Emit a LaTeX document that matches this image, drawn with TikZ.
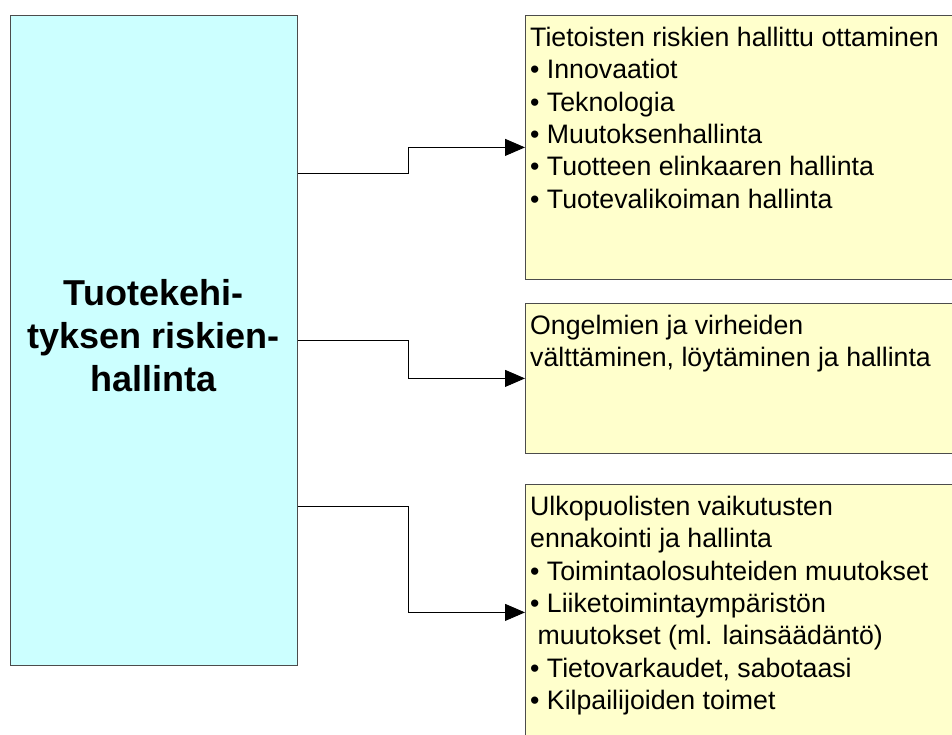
\documentclass[tikz,border=0pt]{standalone}
\usepackage{fontspec}
\setmainfont{Liberation Sans}
\usetikzlibrary{arrows.meta}
\definecolor{cyanbox}{HTML}{CCFFFF}
\definecolor{yellowbox}{HTML}{FFFFCC}
\begin{document}
\begin{tikzpicture}[x=1pt,y=-1pt,
  box/.style={draw=black!70, line width=0.8pt, inner sep=0pt, anchor=north west},
  txt/.style={anchor=north west, inner sep=0pt, align=left, font=\fontsize{26.7}{32.4}\selectfont},
  conn/.style={draw=black, line width=0.9pt, -{Triangle[length=20pt,width=17pt]}}]
\useasboundingbox (0,0) rectangle (952,734);
\clip (0,0) rectangle (952,734);
\node[box, fill=cyanbox, minimum width=287pt, minimum height=650pt] (L) at (10,15) {};
\node[box, fill=yellowbox, minimum width=440pt, minimum height=264pt] (B1) at (525,15) {};
\node[box, fill=yellowbox, minimum width=440pt, minimum height=150pt] (B2) at (525,303) {};
\node[box, fill=yellowbox, minimum width=440pt, minimum height=256pt] (B3) at (525,484) {};
\node[anchor=north, inner sep=0pt, align=center, font=\fontsize{36}{43}\selectfont\bfseries] (T0) at (153.5,279) {Tuotekehi-\\tyksen riskien-\\hallinta};
\node[txt] (T1) at (530,26.7) {Tietoisten riskien hallittu ottaminen\\• Innovaatiot\\• Teknologia\\• Muutoksenhallinta\\• Tuotteen elinkaaren hallinta\\• Tuotevalikoiman hallinta};
\node[txt] (T2) at (530,314.7) {Ongelmien ja virheiden\\välttäminen, löytäminen ja hallinta};
\node[txt] (T3) at (530,495.7) {Ulkopuolisten vaikutusten\\ennakointi ja hallinta\\• Toimintaolosuhteiden muutokset\\• Liiketoimintaympäristön\\\ muutokset (ml. lainsäädäntö)\\• Tietovarkaudet, sabotaasi\\• Kilpailijoiden toimet};
\draw[conn] ([yshift=167pt]L.east) -- ++(111,0) |- (B1.west);
\draw[conn] (L.east) -- ++(111,0) |- (B2.west);
\draw[conn] ([yshift=-166pt]L.east) -- ++(111,0) |- (B3.west);
\end{tikzpicture}
\end{document}
